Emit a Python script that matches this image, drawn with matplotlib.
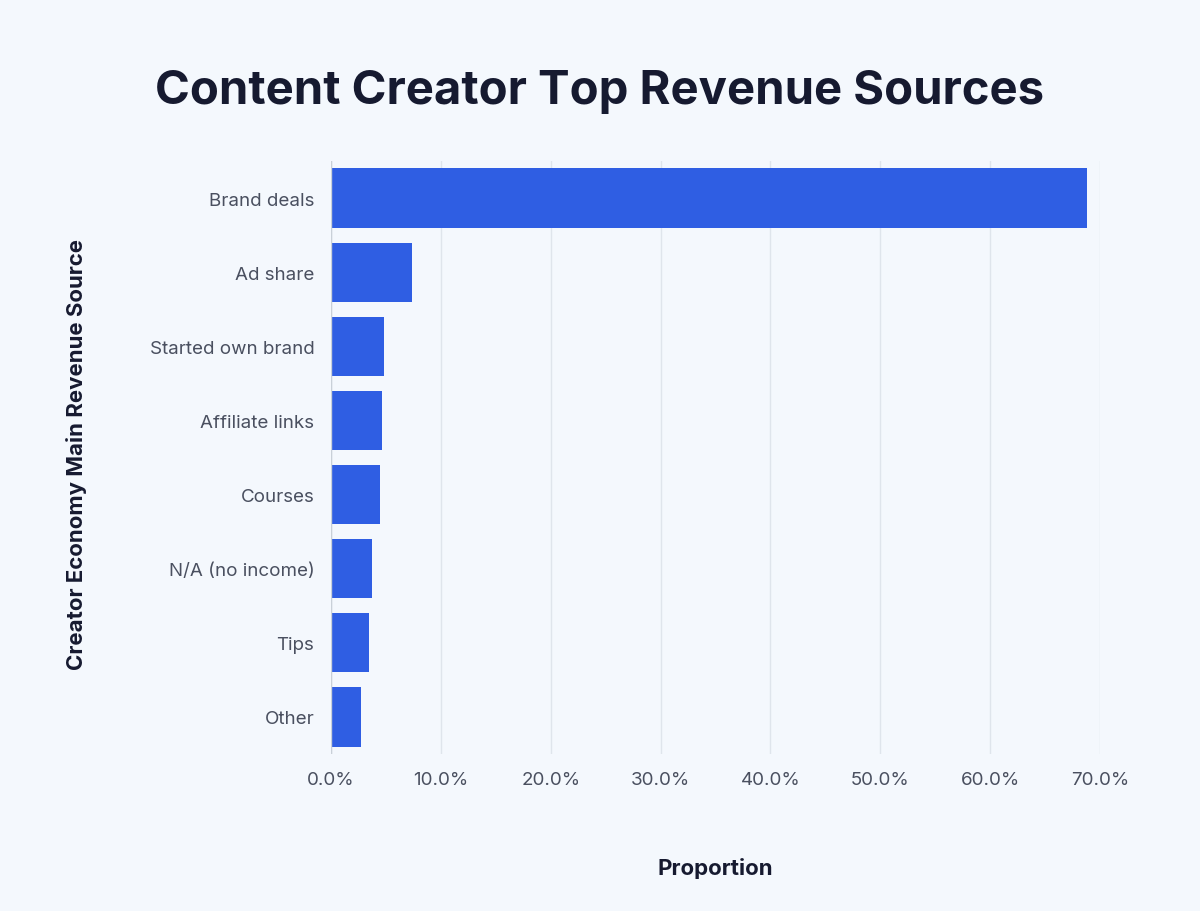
import matplotlib
matplotlib.use("Agg")
import matplotlib.pyplot as plt
from matplotlib.ticker import FuncFormatter

categories = ["Brand deals", "Ad share", "Started own brand", "Affiliate links",
              "Courses", "N/A (no income)", "Tips", "Other"]
values = [68.8, 7.4, 4.8, 4.6, 4.5, 3.7, 3.5, 2.7]
xticks = [0, 10, 20, 30, 40, 50, 60, 70]

bg = "#f4f8fd"
fig = plt.figure(figsize=(12, 9.12), dpi=100, facecolor=bg)
ax = fig.add_axes([331/1200, 1-755/912, (1100-331)/1200, (755-162)/912], facecolor=bg)
ypos = list(range(len(categories)))
ax.barh(ypos, values, height=0.8, color="#2f5ee3", zorder=3)
ax.set_ylim(len(categories)-0.5, -0.5)
ax.set_xlim(0, 70)
ax.set_xticks(xticks)
ax.xaxis.set_major_formatter(FuncFormatter(lambda v, p: f"{v:.1f}%"))
ax.set_yticks(ypos)
ax.set_yticklabels(categories)
ax.grid(axis="x", color="#dfe5ec", linewidth=1, zorder=0)
for s in ax.spines.values():
    s.set_visible(False)
ax.axvline(0, color="#c9d0d8", linewidth=1, zorder=4)
ax.tick_params(length=0, labelsize=13.5, labelcolor="#4a5060", pad=12)
for t in ax.get_xticklabels():
    t.set_fontfamily("Inter")
for t in ax.get_yticklabels():
    t.set_fontfamily("Inter")
ax.set_xlabel("Proportion", fontsize=16, fontweight="bold", color="#161a30",
              family="Inter", labelpad=50)
fig.text(77/1200, 1-455/912, "Creator Economy Main Revenue Source", rotation=90,
         fontsize=16, fontweight="bold", color="#161a30", family="Inter",
         ha="center", va="center")
fig.text(0.5, 1-92/912, "Content Creator Top Revenue Sources", ha="center", va="center",
         fontsize=34, fontweight="bold", color="#161a30", family="Inter")
fig.savefig("out.png", dpi=100, facecolor=bg)
